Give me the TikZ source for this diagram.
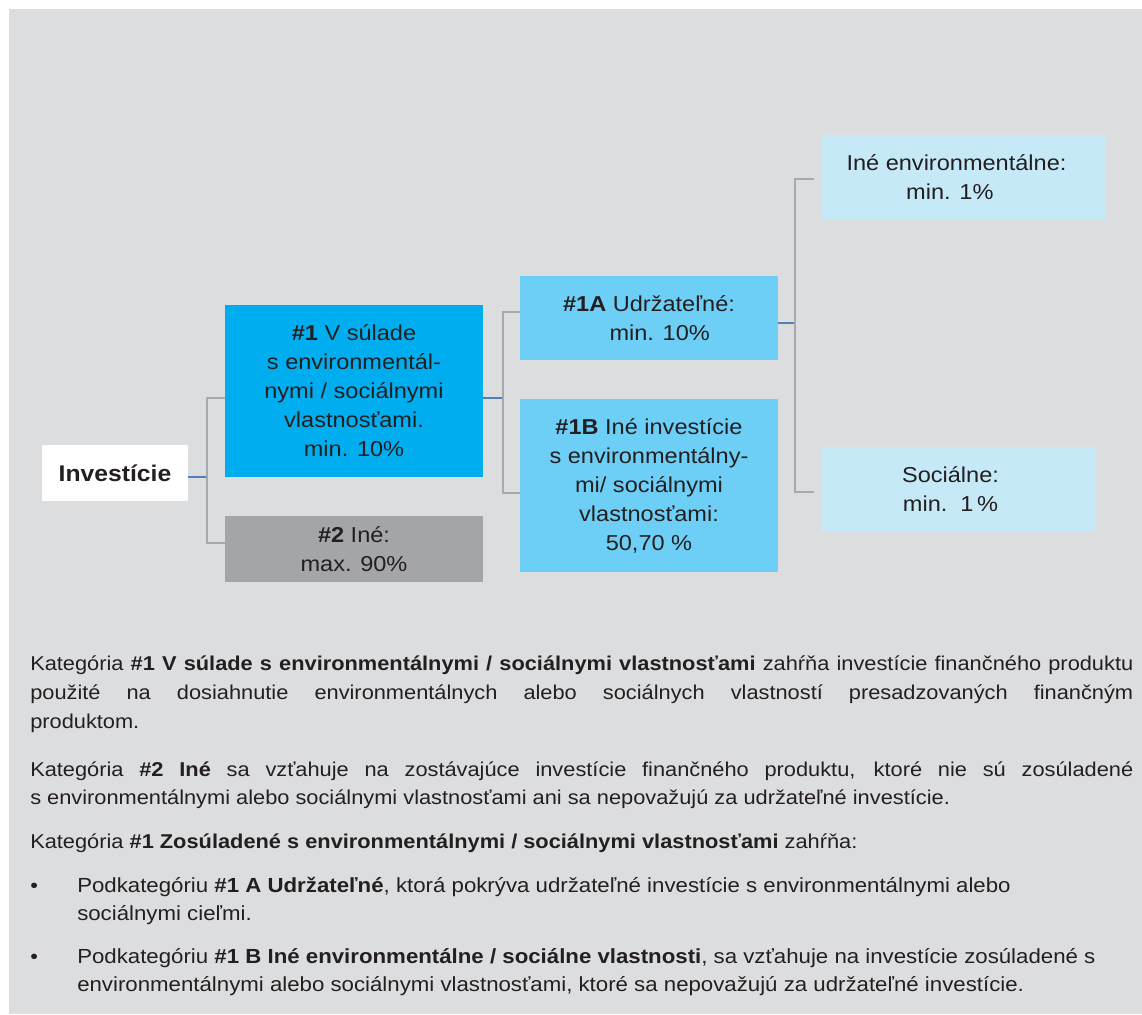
\documentclass[tikz,border=0pt]{standalone}
\usepackage{fontspec}
\setmainfont[FakeStretch=1.09]{Liberation Sans}
\newdimen\pxu \pxu=0.75pt
\definecolor{bgc}{HTML}{DCDDDF}
\definecolor{txt}{HTML}{231F20}
\definecolor{cone}{HTML}{00AEEF}
\definecolor{ctwo}{HTML}{A3A5A8}
\definecolor{cmid}{HTML}{6DCFF6}
\definecolor{clight}{HTML}{C6E9F8}
\definecolor{glin}{HTML}{A7A9AC}
\definecolor{blin}{HTML}{4F7FBF}
\begin{document}
\begin{tikzpicture}[x=0.75pt,y=-0.75pt,
  box/.style={rectangle, inner sep=0pt, align=center, text=txt, font=\fontsize{16.2}{21.75}\selectfont},
  bodytext/.style={inner sep=0pt, anchor=base west, text=txt, font=\fontsize{15}{21.75}\selectfont},
  bullettext/.style={bodytext, font=\fontsize{15.3}{21.75}\selectfont},
  grayline/.style={draw=glin, line width=1.1pt},
  blueline/.style={draw=blin, line width=1.4pt}]
\useasboundingbox (0,0) rectangle (1142,1014);
\fill[bgc] (9,9) rectangle (1142,1014);

% boxes
\node[box, fill=white, minimum width=109.5pt, minimum height=42pt, font=\fontsize{17}{21.75}\selectfont\bfseries] (inv) at (115,473) {Investície};
\node[box, fill=cone, minimum width=193.5pt, minimum height=129pt] (b1) at (354,391)
  {\textbf{\#1} V súlade\\s environmentál-\\nymi / sociálnymi\\vlastnosťami.\\min. 10\%};
\node[box, fill=ctwo, minimum width=193.5pt, minimum height=49.5pt] (b2) at (354,549)
  {\textbf{\#2} Iné:\\max. 90\%};
\node[box, fill=cmid, minimum width=193.5pt, minimum height=63pt] (b1a) at (649,318)
  {\textbf{\#1A} Udržateľné:\\\hspace*{16pt}min. 10\%};
\node[box, fill=cmid, minimum width=193.5pt, minimum height=129.75pt] (b1b) at (649,485.5)
  {\textbf{\#1B} Iné investície\\s environmentálny-\\mi/ sociálnymi\\vlastnosťami:\\50,70 \%};
\node[box, fill=clight, minimum width=212.25pt, minimum height=63pt] (benv) at (963.5,177)
  {Iné environmentálne:\hspace*{14\pxu}\\\hspace*{-10pt}min. 1\%\hspace*{14\pxu}};
\node[box, fill=clight, minimum width=206.25pt, minimum height=63pt] (bsoc) at (958.5,489)
  {Sociálne:\hspace*{16\pxu}\\min.\ \ 1\,\%\hspace*{16\pxu}};

% connectors
\coordinate (j1) at (207,477);
\coordinate (j1t) at (207,398);
\coordinate (j1b) at (207,543);
\draw[blueline] (inv.east |- j1) -- (j1);
\draw[grayline] (b1.west |- j1t) -- (j1t) -- (j1b) -- (b2.west |- j1b);

\coordinate (j2) at (503,398);
\coordinate (j2t) at (503,312);
\coordinate (j2b) at (503,493);
\draw[blueline] (b1.east |- j2) -- (j2);
\draw[grayline] (b1a.west |- j2t) -- (j2t) -- (j2b) -- (b1b.west |- j2b);

\coordinate (j3) at (795,323);
\coordinate (j3t) at (795,179);
\coordinate (j3b) at (795,492);
\coordinate (e3t) at (814,179);
\coordinate (e3b) at (814,492);
\draw[blueline] (b1a.east |- j3) -- (j3);
\draw[grayline] (e3t) -- (j3t) -- (j3b) -- (e3b);

% body text
\node[bodytext] (p1a) at (30,670) {\hbox to 1103\pxu{Kategória \textbf{\#1 V súlade s environmentálnymi / sociálnymi vlastnosťami} zahŕňa investície finančného produktu}};
\node[bodytext] (p1b) at (30,699) {\hbox to 1103\pxu{použité na dosiahnutie environmentálnych alebo sociálnych vlastností presadzovaných finančným}};
\node[bodytext] (p1c) at (30,728) {produktom.};
\node[bodytext] (p2a) at (30,776) {\hbox to 1103\pxu{Kategória \textbf{\#2 Iné} sa vzťahuje na zostávajúce investície finančného produktu, ktoré nie sú zosúladené}};
\node[bodytext] (p2b) at (30,804) {s environmentálnymi alebo sociálnymi vlastnosťami ani sa nepovažujú za udržateľné investície.};
\node[bodytext] (p3) at (30,848) {Kategória \textbf{\#1 Zosúladené s environmentálnymi / sociálnymi vlastnosťami} zahŕňa:};
\node[bodytext] (u1) at (30,892) {•};
\node[bullettext] (b1l1) at (77,892) {Podkategóriu \textbf{\#1 A Udržateľné}, ktorá pokrýva udržateľné investície s environmentálnymi alebo};
\node[bullettext] (b1l2) at (77,920) {sociálnymi cieľmi.};
\node[bodytext] (u2) at (30,963) {•};
\node[bullettext] (b2l1) at (77,963) {Podkategóriu \textbf{\#1 B Iné environmentálne / sociálne vlastnosti}, sa vzťahuje na investície zosúladené s};
\node[bullettext] (b2l2) at (77,991) {environmentálnymi alebo sociálnymi vlastnosťami, ktoré sa nepovažujú za udržateľné investície.};
\end{tikzpicture}
\end{document}
